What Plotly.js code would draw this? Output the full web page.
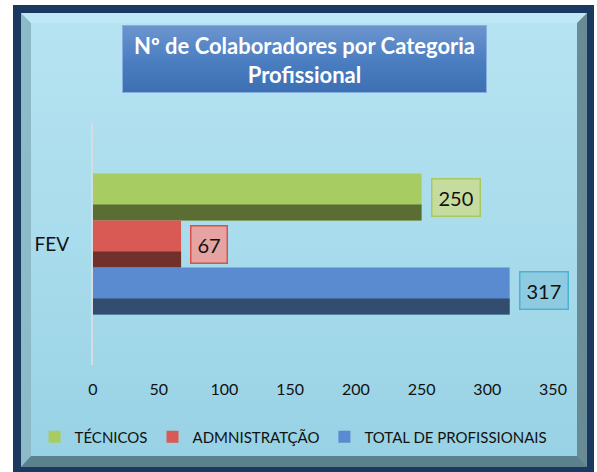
<!DOCTYPE html>
<html>
<head>
<meta charset="utf-8">
<script src="https://cdn.plot.ly/plotly-3.0.1.min.js"></script>
<style>
  html, body { margin:0; padding:0; background:#ffffff; width:597px; height:472px; overflow:hidden; }
  #frame { position:absolute; left:13px; top:5px; width:581px; height:467px; background:#1a3860; box-sizing:border-box; }
  #bevel { position:absolute; left:8px; top:8px; width:566px; height:454px; box-sizing:border-box;
           border-style:solid; border-width:10px 10px 11px 10px;
           border-top-color:#bee8f6; border-left-color:#8dbac7; border-right-color:#688b95; border-bottom-color:#5b828c;
           background:linear-gradient(to bottom, #b6e3f2 0%, #a9dcec 50%, #98d2e5 100%); }
  #titlebox { position:absolute; left:122px; top:25px; width:365px; height:68px; box-sizing:border-box;
              border:1px solid #86aedf; background:linear-gradient(to bottom, #6c95cf 0%, #4a7dc0 55%, #3d6fb3 100%); }
  #chart { position:absolute; left:0; top:0; width:597px; height:472px; }
</style>
</head>
<body>
<div id="frame"><div id="bevel"></div></div>
<div id="titlebox"></div>
<div id="chart"></div>
<script>
// ---- data ----
const categories = ['FEV'];
const seriesNames = ['TÉCNICOS', 'ADMNISTRATÇÃO', 'TOTAL DE PROFISSIONAIS'];
const valTecnicos = [250];
const valAdmin = [67];
const valTotal = [317];
const xTickVals = [0, 50, 100, 150, 200, 250, 300, 350];
const xTickText = ['0', '50', '100', '150', '200', '250', '300', '350'];

// ---- styles ----
const seriesValues = [valTecnicos, valAdmin, valTotal];
const lightColors = ['#a7cc62', '#d95955', '#5a8bd0'];
const darkColors  = ['#5a6d33', '#72302d', '#334d6e'];
const boxFill     = ['#c6dc9e', '#e5a3a1', '#8ecae0'];
const boxBorder   = ['#a8c85c', '#d9504d', '#4bb2d3'];
const barW = 0.194;
const offsets = [-0.291, -0.097, 0.097];
const FONT = 'Lato, "Open Sans", sans-serif';

const traces = [];
seriesNames.forEach((name, i) => {
  // full-thickness bar (light face)
  traces.push({
    type: 'bar', orientation: 'h', name: name,
    y: categories, x: seriesValues[i],
    width: barW, offset: offsets[i],
    marker: { color: lightColors[i], line: { width: 0 } },
    hoverinfo: 'skip', showlegend: true
  });
  // lower dark band (bevel shading)
  traces.push({
    type: 'bar', orientation: 'h', name: name + ' ',
    y: categories, x: seriesValues[i],
    width: barW * 0.34, offset: offsets[i] + barW * 0.66,
    marker: { color: darkColors[i], line: { width: 0 } },
    hoverinfo: 'skip', showlegend: false
  });
});

const annotations = seriesNames.map((name, i) => ({
  x: seriesValues[i][0], y: offsets[i] + barW / 2,
  xref: 'x', yref: 'y',
  text: String(seriesValues[i][0]),
  showarrow: false, xanchor: 'left', yanchor: 'middle', xshift: 9,
  font: { family: FONT, size: 20, color: '#111111' },
  bgcolor: boxFill[i], bordercolor: boxBorder[i], borderwidth: 1.5, borderpad: 6
}));

const layout = {
  width: 597, height: 472,
  paper_bgcolor: 'rgba(0,0,0,0)', plot_bgcolor: 'rgba(0,0,0,0)',
  margin: { l: 93, r: 44, t: 123, b: 107 },
  barmode: 'overlay',
  title: {
    text: 'Nº de Colaboradores por Categoria<br>Profissional',
    font: { family: FONT, size: 22, color: '#ffffff', weight: 'bold' },
    xref: 'container', x: 304.5 / 597, xanchor: 'center',
    yref: 'container', y: 1 - 54 / 472, yanchor: 'middle'
  },
  xaxis: {
    range: [0, 350], tickvals: xTickVals, ticktext: xTickText,
    showgrid: false, zeroline: false, showline: false, ticks: '',
    tickfont: { family: FONT, size: 16, color: '#111111' },
    ticklabelstandoff: 13, fixedrange: true
  },
  yaxis: {
    type: 'category', range: [0.5, -0.5],
    showgrid: false, zeroline: false, showline: true, linecolor: '#d6dde0', linewidth: 2,
    ticks: '', tickfont: { family: FONT, size: 19, color: '#111111' },
    ticklabelstandoff: 18, fixedrange: true
  },
  legend: {
    orientation: 'h', xref: 'paper', yref: 'paper',
    x: -0.127, xanchor: 'left', y: -0.2975, yanchor: 'middle',
    font: { family: FONT, size: 15, color: '#111111' },
    bgcolor: 'rgba(0,0,0,0)', itemwidth: 30, traceorder: 'normal'
  },
  annotations: annotations,
  showlegend: true
};

Plotly.newPlot('chart', traces, layout, { displayModeBar: false, staticPlot: true });
</script>
</body>
</html>
